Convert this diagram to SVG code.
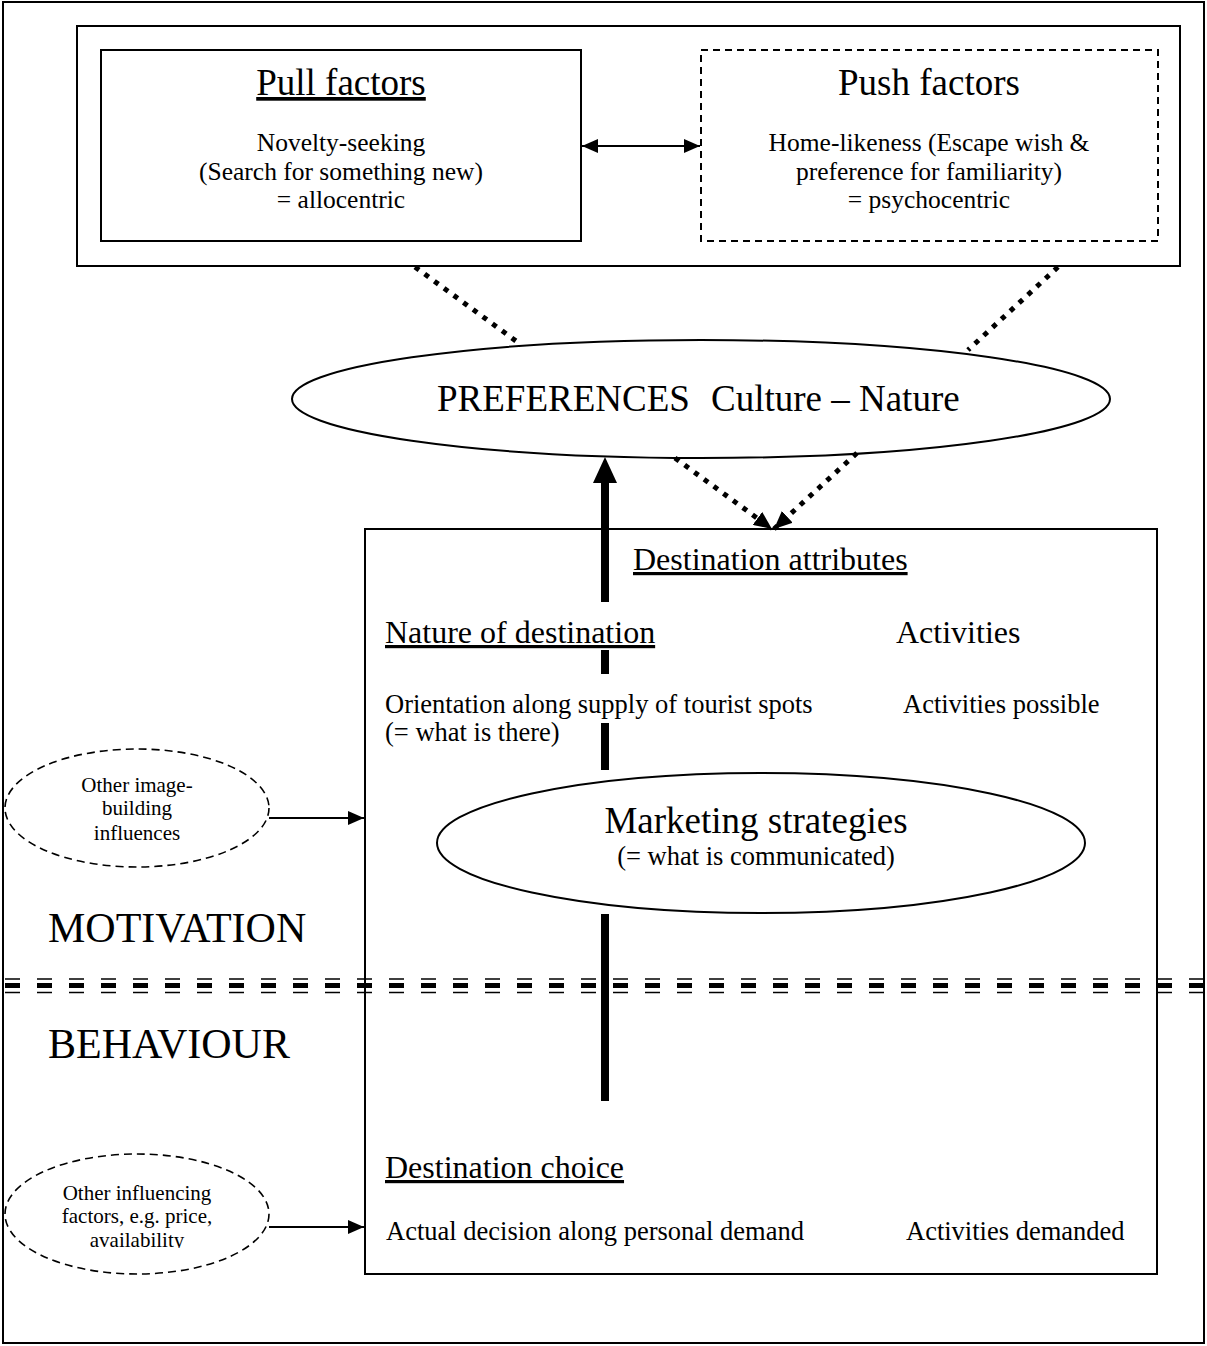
<svg xmlns="http://www.w3.org/2000/svg" width="1207" height="1346" viewBox="0 0 1207 1346">
  <style>
    text { font-family: "Liberation Serif", "Times New Roman", serif; fill: #000; }
    .box { fill: #fff; stroke: #000; stroke-width: 2; }
    .dbox { fill: #fff; stroke: #000; stroke-width: 2; stroke-dasharray: 7 5; }
    .oval { fill: #fff; stroke: #000; stroke-width: 2; }
    .doval { fill: #fff; stroke: #000; stroke-width: 1.6; stroke-dasharray: 8 5; }
    .thin { fill: none; stroke: #000; stroke-width: 2; }
    .dots { fill: none; stroke: #000; stroke-width: 5; stroke-dasharray: 5 7; }
    .rule { fill: none; stroke: #000; stroke-dasharray: 15 17; }
    .t37 { font-size: 37px; }
    .t32 { font-size: 32px; }
    .t26 { font-size: 26.5px; }
    .t25 { font-size: 25.5px; }
    .t21 { font-size: 21px; }
    .t42 { font-size: 42px; }
    .u { text-decoration: underline; }
    .mid { text-anchor: middle; }
  </style>
  <defs>
    <marker id="head" markerUnits="userSpaceOnUse" markerWidth="16" markerHeight="14" refX="16" refY="7" orient="auto-start-reverse">
      <path d="M0,0 L16,7 L0,14 z" fill="#000"/>
    </marker>
    <marker id="dothead" markerUnits="userSpaceOnUse" markerWidth="18" markerHeight="16" refX="18" refY="8" orient="auto">
      <path d="M0,0 L18,8 L0,16 z" fill="#000"/>
    </marker>
    <clipPath id="clipOther">
      <rect x="0" y="1150" width="280" height="98"/>
    </clipPath>
  </defs>

  <rect x="0" y="0" width="1207" height="1346" fill="#fff"/>
  <!-- outer frame -->
  <rect x="3" y="2" width="1201" height="1341" fill="none" stroke="#000" stroke-width="2"/>

  <!-- factors container -->
  <g id="factors">
    <rect class="box" x="77" y="26" width="1103" height="240"/>
  </g>

  <g id="pull-factors">
    <rect class="box" x="101" y="50" width="480" height="191"/>
    <text class="t37 mid u" x="341" y="95">Pull factors</text>
    <text class="t25 mid" x="341" y="151">Novelty-seeking</text>
    <text class="t25 mid" x="341" y="180">(Search for something new)</text>
    <text class="t25 mid" x="341" y="208">= allocentric</text>
  </g>

  <g id="push-factors">
    <rect class="dbox" x="701" y="50" width="457" height="191"/>
    <text class="t37 mid" x="929" y="95">Push factors</text>
    <text class="t25 mid" x="929" y="151">Home-likeness (Escape wish &amp;</text>
    <text class="t25 mid" x="929" y="180">preference for familiarity)</text>
    <text class="t25 mid" x="929" y="208">= psychocentric</text>
  </g>

  <g id="preferences">
    <ellipse class="oval" cx="701" cy="399" rx="409" ry="59"/>
    <text class="t37" x="437" y="411">PREFERENCES</text>
    <text class="t37" x="711" y="411">Culture – Nature</text>
  </g>

  <g id="destination-attributes">
    <rect class="box" x="365" y="529" width="792" height="745"/>
    <text class="t32 u" x="633" y="570">Destination attributes</text>
    <text class="t32 u" x="385" y="643">Nature of destination</text>
    <text class="t32" x="896" y="643">Activities</text>
    <text class="t26" x="385" y="713">Orientation along supply of tourist spots</text>
    <text class="t26" x="385" y="741">(= what is there)</text>
    <text class="t26" x="903" y="713">Activities possible</text>
    <text class="t32 u" x="385" y="1178">Destination choice</text>
    <text class="t26" x="386" y="1240">Actual decision along personal demand</text>
    <text class="t26" x="906" y="1240">Activities demanded</text>
  </g>

  <g id="marketing-strategies">
    <ellipse class="oval" cx="761" cy="843" rx="324" ry="70"/>
    <text class="t37 mid" x="756" y="833">Marketing strategies</text>
    <text class="t26 mid" x="756" y="865">(= what is communicated)</text>
  </g>

  <g id="image-influences">
    <ellipse class="doval" cx="137" cy="808" rx="132" ry="59"/>
    <text class="t21 mid" x="137" y="792">Other image-</text>
    <text class="t21 mid" x="137" y="815">building</text>
    <text class="t21 mid" x="137" y="840">influences</text>
  </g>

  <g id="other-factors">
    <ellipse class="doval" cx="137" cy="1214" rx="132" ry="60"/>
    <g clip-path="url(#clipOther)">
      <text class="t21 mid" x="137" y="1200">Other influencing</text>
      <text class="t21 mid" x="137" y="1223">factors, e.g. price,</text>
      <text class="t21 mid" x="137" y="1247">availability</text>
    </g>
  </g>

  <g id="labels">
    <text class="t42" x="48" y="942">MOTIVATION</text>
    <text class="t42" x="48" y="1058">BEHAVIOUR</text>
  </g>

  <!-- motivation / behaviour divider: thin, thick, thin dashes -->
  <g id="divider">
    <line class="rule" x1="5" y1="979" x2="1207" y2="979" stroke-width="1.7"/>
    <line class="rule" x1="5" y1="985.5" x2="1207" y2="985.5" stroke-width="5"/>
    <line class="rule" x1="5" y1="992.5" x2="1207" y2="992.5" stroke-width="1.7"/>
  </g>

  <g id="connectors">
    <!-- pull <-> push -->
    <line class="thin" x1="582" y1="146" x2="700" y2="146" marker-start="url(#head)" marker-end="url(#head)"/>
    <!-- factors to preferences -->
    <line class="dots" x1="415" y1="267" x2="516" y2="341"/>
    <line class="dots" x1="1058" y1="267" x2="968" y2="350"/>
    <!-- preferences to destination attributes -->
    <line class="dots" x1="675" y1="458" x2="772" y2="529" marker-end="url(#dothead)"/>
    <line class="dots" x1="857" y1="453" x2="774" y2="529" marker-end="url(#dothead)"/>
    <!-- side influences -->
    <line class="thin" x1="269" y1="818" x2="364" y2="818" marker-end="url(#head)"/>
    <line class="thin" x1="269" y1="1227" x2="364" y2="1227" marker-end="url(#head)"/>
    <!-- feedback: destination choice up to preferences -->
    <g fill="#000">
      <rect x="601" y="481" width="8" height="121"/>
      <rect x="601" y="650" width="8" height="24"/>
      <rect x="601" y="723" width="8" height="47"/>
      <rect x="601" y="914" width="8" height="187"/>
      <polygon points="605,457 617,483 593,483"/>
    </g>
  </g>
</svg>
